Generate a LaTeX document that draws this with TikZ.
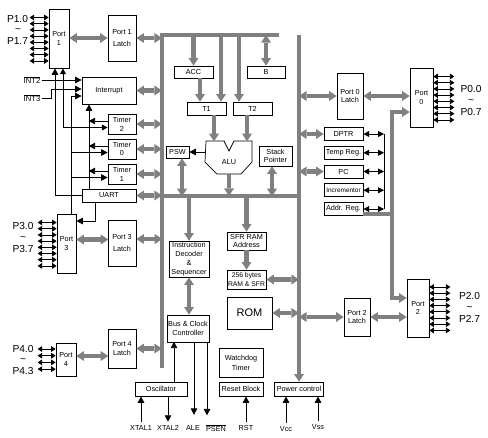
\documentclass[tikz,border=0pt]{standalone}
\usepackage{fontspec}
\setmainfont{Liberation Sans}
\usetikzlibrary{arrows.meta}
\definecolor{busgray}{RGB}{128,128,128}

\begin{document}
\begin{tikzpicture}[x=0.03cm, y=-0.03cm,
    wh/.style 2 args={minimum width=#1*0.03cm, minimum height=#2*0.03cm}]
  \tikzstyle{box} = [rectangle, draw=black, fill=white, line width=0.6pt, inner sep=0pt, align=center, font=\fontsize{6.2}{7.5}\selectfont]
  \tikzstyle{bus} = [draw=busgray, line width=3.6pt]
  \tikzstyle{gar} = [bus, -{Triangle[length=6.5pt, width=8.5pt, line width=0pt]}]
  \tikzstyle{dgar} = [bus, {Triangle[length=6.5pt, width=8.5pt, line width=0pt]}-{Triangle[length=6.5pt, width=8.5pt, line width=0pt]}]
  \tikzstyle{sig} = [draw=black, line width=0.7pt, -{Triangle[length=5.5pt, width=5.5pt]}]
  \tikzstyle{rsig} = [draw=black, line width=0.7pt, {Triangle[length=5.5pt, width=5.5pt]}-]
  \tikzstyle{dsig} = [draw=black, line width=0.7pt, {Triangle[length=5pt, width=5pt]}-{Triangle[length=5pt, width=5pt]}]
  \tikzstyle{pin} = [draw=black, line width=0.6pt, {Triangle[length=3.8pt, width=4.8pt]}-{Triangle[length=3.8pt, width=4.8pt]}]
  \tikzstyle{pinlabel} = [font=\fontsize{8.7}{9}\selectfont, inner sep=0pt]
  \tikzstyle{extlabel} = [font=\fontsize{6.2}{7}\selectfont, inner sep=3pt]

  \useasboundingbox (0,0) rectangle (488,437);

  % internal bus
  \coordinate (bustl) at (162,35);
  \coordinate (bustr) at (279,35);
  \coordinate (busbl) at (162,368);
  \coordinate (busml) at (162,196);
  \coordinate (busmr) at (299,196);
  \coordinate (busrt) at (299,35);
  \draw[bus] (bustr) -- (bustl) -- (busbl);
  \draw[bus] (busml) -- (busmr);

  % ports and latches
  \node (port1) [box, wh={20}{59}] at (59,38.5) {Port\\1};
  \node (port3) [box, wh={19}{59}] at (66.5,243.5) {Port\\3};
  \node (port4) [box, wh={20}{33}] at (66,359.5) {Port\\4};
  \node (port0) [box, wh={23}{59}] at (421.5,97.5) {Port\\0};
  \node (port2) [box, wh={22}{58}] at (418,308) {Port\\2};
  \node (latch1) [box, wh={28}{46}] at (122,38) {Port 1\\[2pt]Latch};
  \node (latch3) [box, wh={28}{46}] at (122,243) {Port 3\\[2pt]Latch};
  \node (latch4) [box, wh={28}{39}] at (122,348.5) {Port 4\\Latch};
  \node (latch0) [box, wh={26}{46}] at (350,96) {Port 0\\Latch};
  \node (latch2) [box, wh={26}{38}] at (357,317) {Port 2\\Latch};

  \node (intr) [box, wh={54}{27}] at (109,90.5) {Interrupt};
  \node (timer2) [box, wh={28}{20}] at (122,124) {Timer\\2};
  \node (timer0) [box, wh={28}{20}] at (122,149) {Timer\\0};
  \node (timer1) [box, wh={28}{20}] at (122,174) {Timer\\1};
  \node (uart) [box, wh={54}{13}] at (109,195.5) {UART};

  % cpu
  \node (acc) [box, wh={39}{12}] at (193.5,72) {ACC};
  \node (b) [box, wh={38}{12}] at (266,72) {B};
  \node (t1) [box, wh={39}{13}] at (206.5,108.5) {T1};
  \node (t2) [box, wh={39}{13}] at (252.5,108.5) {T2};
  \node (psw) [box, wh={23}{12}] at (177.5,152) {PSW};
  \node (sp) [box, wh={33}{20}] at (275.5,156) {Stack\\Pointer};
  \draw[fill=white, line width=0.6pt] (206,141) -- (224,141) -- (229,151) -- (234,141) -- (252,141)
    -- (252,162) -- (241,174) -- (217,174) -- (205,162) -- cycle;
  \node (alu) [font=\fontsize{6.2}{7.5}\selectfont] at (229,162) {ALU};
  \coordinate (aluw) at (205.5,152);
  \coordinate (alus) at (229,174);

  \node (dptr) [box, wh={39}{13}] at (343.5,134) {DPTR};
  \node (temp) [box, wh={39}{13}] at (343.5,152.75) {Temp Reg.};
  \node (pc) [box, wh={39}{13}] at (343.5,171.5) {PC};
  \node (incr) [box, wh={39}{13}, font=\fontsize{5.5}{6}\selectfont] at (343.5,190.25) {Incrementor};
  \node (addr) [box, wh={39}{13}] at (343.5,209) {Addr. Reg.};

  \node (instr) [box, wh={40}{36}] at (189,259) {Instruction\\Decoder\\\&\\Sequencer};
  \node (sfr) [box, wh={39}{18}] at (246.5,241) {SFR RAM\\Address};
  \node (ram) [box, wh={39}{19}, font=\fontsize{5.8}{7}\selectfont] at (246.5,279.5) {256 bytes\\RAM \& SFR};
  \node (rom) [box, wh={45}{32}, font=\fontsize{9.4}{10}\selectfont] at (249.5,313) {ROM};
  \node (ctrl) [box, wh={42}{27}] at (188,328.5) {Bus \& Clock\\Controller};
  \node (osc) [box, wh={52}{14}] at (161,389) {Oscillator};
  \node (wdt) [box, wh={44}{29}] at (241,362.5) {Watchdog\\[1pt]Timer};
  \node (reset) [box, wh={44}{14}] at (241,389) {Reset Block};
  \node (pwr) [box, wh={49}{14}] at (299,389) {Power control};

  % pins
  \foreach \i in {0,...,7} {
    \draw[pin] ([shift={(0,-21+6.2*\i)}]port1.west) -- ++(-19,0);
    \draw[pin] ([shift={(0,-21+6.2*\i)}]port3.west) -- ++(-19,0);
    \draw[pin] ([shift={(0,-21+6.2*\i)}]port0.east) -- ++(21,0);
    \draw[pin] ([shift={(0,-21+6.2*\i)}]port2.east) -- ++(21,0);
  }
  \foreach \i in {0,...,3}
    \draw[pin] ([shift={(0,-10.5+6.7*\i)}]port4.west) -- ++(-18,0);

  \node (p10) [pinlabel] at (17.5,18.5) {P1.0};
  \node (p1t) [pinlabel] at (18,30.5) {\textasciitilde};
  \node (p17) [pinlabel] at (17.5,41) {P1.7};
  \node (p30) [pinlabel] at (23,226) {P3.0};
  \node (p3t) [pinlabel] at (23,238) {\textasciitilde};
  \node (p37) [pinlabel] at (23,248.5) {P3.7};
  \node (p40) [pinlabel] at (23,348.5) {P4.0};
  \node (p4t) [pinlabel] at (23,360.5) {\textasciitilde};
  \node (p43) [pinlabel] at (23,371) {P4.3};
  \node (p00) [pinlabel] at (471,89) {P0.0};
  \node (p0t) [pinlabel] at (471,101) {\textasciitilde};
  \node (p07) [pinlabel] at (471,111.5) {P0.7};
  \node (p20) [pinlabel] at (469.5,296) {P2.0};
  \node (p2t) [pinlabel] at (469.5,308) {\textasciitilde};
  \node (p27) [pinlabel] at (469.5,318.5) {P2.7};

  % left side
  \draw[dgar] (latch1.west -| port1.east) -- (latch1.west);
  \draw[dgar] (latch1.east) -- (latch1.east -| bustl);
  \draw[dgar] (intr.east) -- (intr.east -| bustl);
  \draw[dgar] (timer2.east) -- (timer2.east -| bustl);
  \draw[dgar] (timer0.east) -- (timer0.east -| bustl);
  \draw[dgar] (timer1.east) -- (timer1.east -| bustl);
  \draw[dgar] (uart.east) -- (uart.east -| bustl);
  \draw[dgar] ([shift={(0,-4)}]port3.east) -- ++(32,0);
  \draw[dgar] ([shift={(0,-4)}]latch3.east) -- ++(26,0);
  \draw[dgar] ([shift={(0,-3.5)}]port4.east) -- ++(32,0);
  \draw[dgar] (latch4.east) -- (latch4.east -| bustl);

  \node (int2) [font=\fontsize{6.5}{7}\selectfont, inner sep=1pt] at (32,80) {$\overline{\mbox{INT2}}$};
  \node (int3) [font=\fontsize{6.5}{7}\selectfont, inner sep=1pt] at (32,98) {$\overline{\mbox{INT3}}$};
  \draw[sig] (int2.east) -- (int2.east -| intr.west);
  \draw[sig] (int3.east) -| ([shift={(-30,-1.5)}]intr.west) -- ([shift={(0,-1.5)}]intr.west);
  \draw[sig] ([shift={(4.5,0)}]port3.north) |- ([shift={(0,5.5)}]intr.west);
  \draw[sig] (uart.west) -| ([shift={(-4,0)}]port1.south);
  \draw[dsig] ([shift={(4,0)}]port1.south) |- ([shift={(0,3.5)}]timer2.west);
  \draw[rsig] ([shift={(0,3.5)}]timer0.west) -- ++(-37,0);
  \draw[rsig] ([shift={(0,3.5)}]timer1.west) -- ++(-37,0);
  \draw[sig] ([shift={(-20,0)}]uart.north) -- ([shift={(-20,0)}]intr.south);
  \draw[sig] ([shift={(0,-3)}]timer2.west) -- ++(-19,0);
  \draw[sig] ([shift={(0,-3)}]timer0.west) -- ++(-19,0);
  \draw[sig] ([shift={(0,-3)}]timer1.west) -- ++(-19,0);
  \draw[sig] ([shift={(-14,0)}]uart.south) |- ([shift={(0,-22.5)}]port3.east);

  % cpu connections
  \draw[gar] (acc.north |- bustl) -- (acc.north);
  \draw[dgar] (b.north |- bustl) -- (b.north);
  \draw[gar] ([shift={(14.5,-67)}]t1.north) -- ([shift={(14.5,0)}]t1.north);
  \draw[gar] ([shift={(-13.5,-67)}]t2.north) -- ([shift={(-13.5,0)}]t2.north);
  \draw[gar] ([shift={(6.5,0)}]acc.south) -- ([shift={(-6.5,0)}]t1.north);
  \draw[gar] ([shift={(7.5,0)}]t1.south) -- ++(0,26);
  \draw[gar] ([shift={(-5.5,0)}]t2.south) -- ++(0,26);
  \draw[sig] (aluw) -- (psw.east);
  \draw[gar] (alus) -- (alus |- busml);
  \draw[dgar] ([shift={(4.5,0)}]psw.south) -- ++(0,38);
  \draw[dgar] ([shift={(-3.5,0)}]sp.south) -- ++(0,30);

  % right side
  \draw[gar] (busrt) -- (busrt |- pwr.north);
  \draw[dgar] (latch0.west -| busrt) -- (latch0.west);
  \draw[dgar] (latch0.east) -- (latch0.east -| port0.west);
  \draw[dgar] (dptr.west -| busrt) -- (dptr.west);
  \draw[dgar] (pc.west -| busrt) -- (pc.west);
  \coordinate (regbus) at (384,134);
  \draw[line width=0.7pt] (dptr.east -| regbus) -- (addr.east -| regbus);
  \draw[dsig] (dptr.east) -- (dptr.east -| regbus);
  \draw[dsig] (temp.east) -- (temp.east -| regbus);
  \draw[dsig] (pc.east) -- (pc.east -| regbus);
  \draw[dsig] (incr.east) -- (incr.east -| regbus);
  \draw[dsig] (addr.east) -- (addr.east -| regbus);
  \draw[bus] ([shift={(0,5)}]addr.east) -- ++(29,0);
  \draw[dgar] ([shift={(0,14.5)}]port0.west) -| ([shift={(-15,-10)}]port2.west) -- ([shift={(0,-10)}]port2.west);

  % memory and control
  \draw[gar] (instr.north |- busml) -- (instr.north);
  \draw[gar] (sfr.north |- busml) -- (sfr.north);
  \draw[gar] (sfr.south) -- (ram.north);
  \draw[dgar] (ram.east) -- (ram.east -| busrt);
  \draw[dgar] (rom.east) -- (rom.east -| busrt);
  \draw[dgar] (latch2.west -| busrt) -- (latch2.west);
  \draw[dgar] (latch2.east) -- (latch2.east -| port2.west);
  \draw[dgar] (instr.south) -- (instr.south |- ctrl.north);

  % external pins
  \node (xtal1) [extlabel] at (141,428) {XTAL1};
  \node (xtal2) [extlabel] at (168,428) {XTAL2};
  \node (ale) [extlabel] at (193,428) {ALE};
  \node (psen) [extlabel] at (216,428) {$\overline{\mbox{PSEN}}$};
  \node (rst) [extlabel] at (246,428) {RST};
  \node (vcc) [extlabel] at (286,429) {Vcc};
  \node (vss) [extlabel] at (318,427) {Vss};
  \draw[sig] (xtal1.north) -- (xtal1.north |- osc.south);
  \draw[sig] (xtal2.north |- osc.south) -- (xtal2.north);
  \draw[sig] ([shift={(13,0)}]osc.north) -- ++(0,-40);
  \draw[sig, shorten >=3pt] ([shift={(6,0)}]ctrl.south) -- ++(0,76);
  \draw[sig] ([shift={(19,0)}]ctrl.south) -- ++(0,73);
  \draw[sig] (rst.north) -- (rst.north |- reset.south);
  \draw[sig] (vcc.north) -- (vcc.north |- pwr.south);
  \draw[sig] (vss.north) -- (vss.north |- pwr.south);
\end{tikzpicture}
\end{document}
